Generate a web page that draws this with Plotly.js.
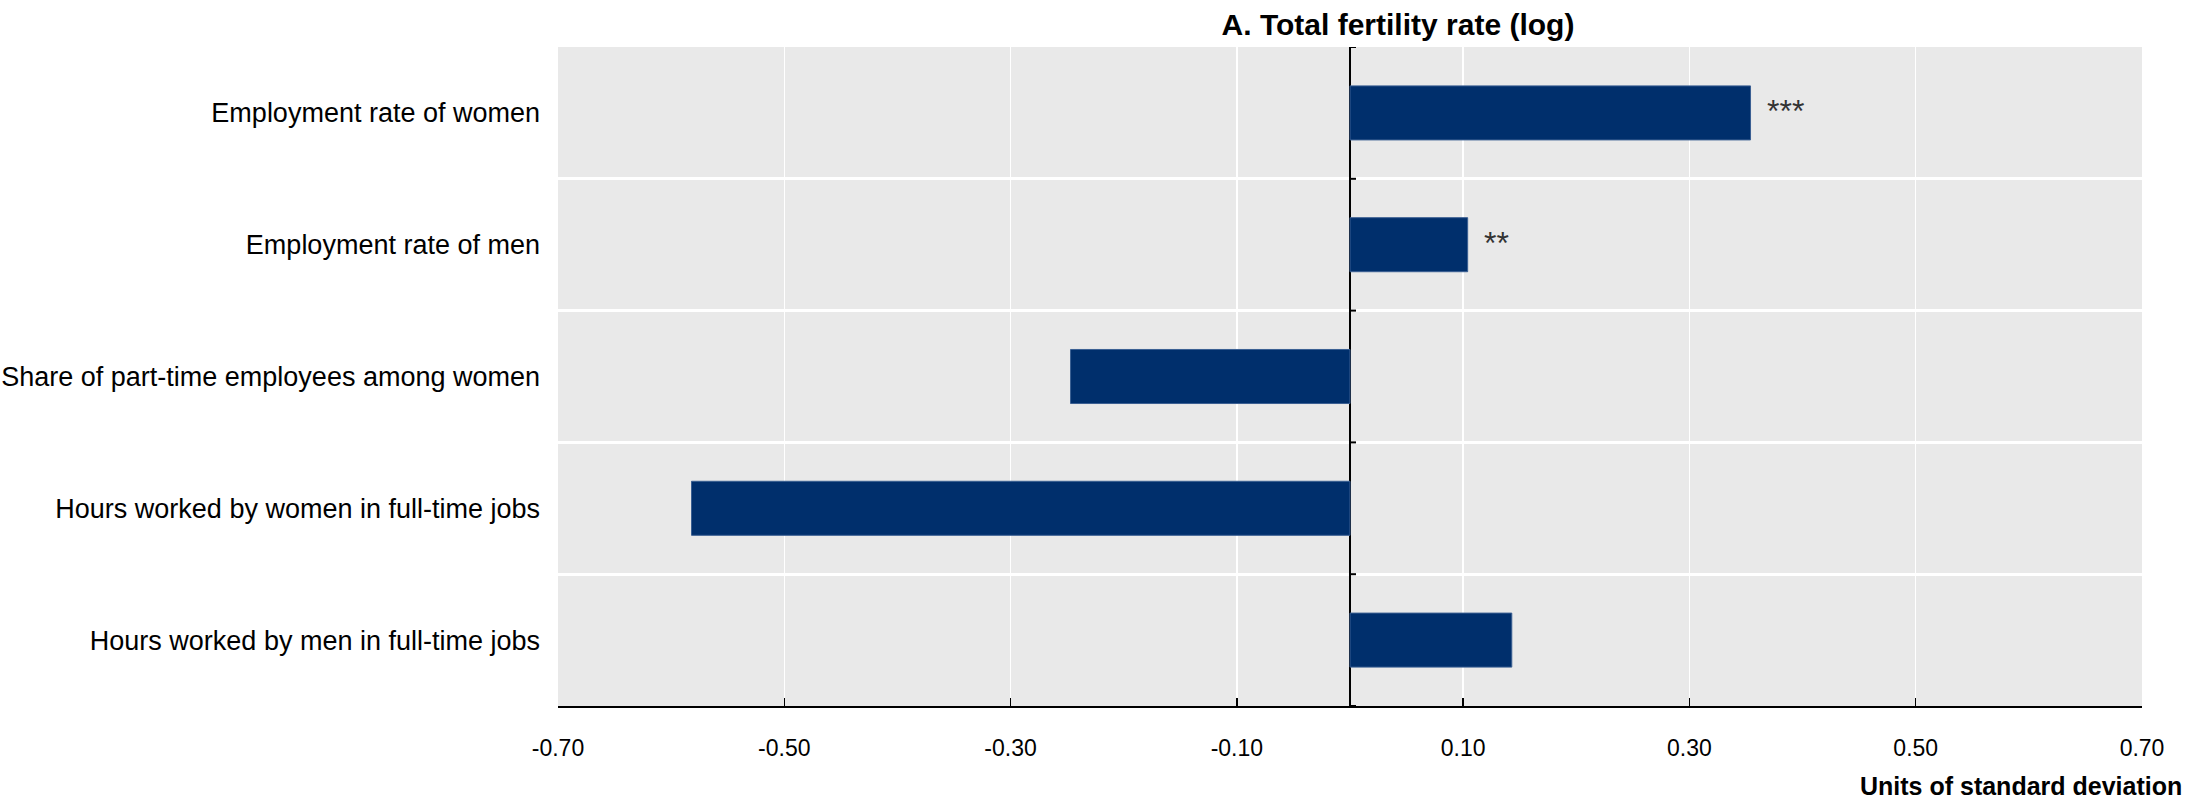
<!DOCTYPE html>
<html>
<head>
<meta charset="utf-8">
<script src="https://cdn.plot.ly/plotly-3.0.1.min.js"></script>
<style>html,body{margin:0;padding:0;background:#fff;}#chart{width:2194px;height:802px;}</style>
</head>
<body>
<div id="chart"></div>
<script>
// Data
var categories = [
  "Employment rate of women",
  "Employment rate of men",
  "Share of part-time employees among women",
  "Hours worked by women in full-time jobs",
  "Hours worked by men in full-time jobs"
];
var values = [0.354, 0.104, -0.247, -0.582, 0.143];
var significance = ["***", "**", "", "", ""];
var tickValues = [-0.70, -0.50, -0.30, -0.10, 0.10, 0.30, 0.50, 0.70];
var tickLabels = ["-0.70", "-0.50", "-0.30", "-0.10", "0.10", "0.30", "0.50", "0.70"];
var chartTitle = "A. Total fertility rate (log)";
var axisTitle = "Units of standard deviation";

var FONT = "'Liberation Sans', Arial, sans-serif";

var trace = {
  type: "bar",
  orientation: "h",
  y: categories,
  x: values,
  width: 0.41,
  marker: { color: "#002f6c", line: { color: "#3a5f92", width: 1 } },
  hoverinfo: "x+y"
};

var annotations = [];
categories.forEach(function (c, i) {
  if (significance[i]) {
    annotations.push({
      x: values[i], y: c, xref: "x", yref: "y",
      text: significance[i], showarrow: false,
      xanchor: "left", yanchor: "middle", xshift: 14, yshift: 2,
      font: { family: FONT, size: 32, color: "#333" }
    });
  }
});
annotations.push({
  xref: "paper", yref: "paper", x: 1, y: 0,
  xanchor: "right", yanchor: "middle", xshift: 42, yshift: -80,
  text: "<b>" + axisTitle + "</b>", showarrow: false,
  font: { family: FONT, size: 25, color: "#000" }
});

// small ticks on the zero line at category boundaries
var shapes = [];
for (var k = 0; k <= categories.length; k++) {
  shapes.push({
    type: "line", xref: "x", yref: "y",
    xsizemode: "pixel", xanchor: 0, x0: 0, x1: 6,
    y0: k - 0.5, y1: k - 0.5,
    line: { color: "#000", width: 2 }
  });
}

var layout = {
  width: 2194, height: 802,
  margin: { l: 558, r: 52, t: 47, b: 96, pad: 0 },
  paper_bgcolor: "#ffffff",
  plot_bgcolor: "#e9e9e9",
  showlegend: false,
  font: { family: FONT, color: "#000" },
  title: {
    text: "<b>" + chartTitle + "</b>",
    font: { family: FONT, size: 30, color: "#000" },
    xref: "container", x: 1398 / 2194, xanchor: "center",
    yref: "container", y: 1 - 24 / 802, yanchor: "middle"
  },
  xaxis: {
    range: [-0.70, 0.70],
    tickmode: "array", tickvals: tickValues, ticktext: tickLabels,
    showgrid: true, gridcolor: "#ffffff", gridwidth: 1.5,
    zeroline: true, zerolinecolor: "#000", zerolinewidth: 1.5,
    showline: true, linecolor: "#000", linewidth: 2,
    ticks: "inside", ticklen: 8, tickwidth: 1.5, tickcolor: "#000",
    ticklabelstandoff: 20,
    tickfont: { family: FONT, size: 23, color: "#000" },
    fixedrange: true
  },
  yaxis: {
    type: "category",
    categoryorder: "array", categoryarray: categories,
    range: [categories.length - 0.5, -0.5],
    tickson: "boundaries",
    showgrid: true, gridcolor: "#ffffff", gridwidth: 3,
    showline: false, zeroline: false, ticks: "",
    ticklabelstandoff: 17,
    tickfont: { family: FONT, size: 27, color: "#000" },
    fixedrange: true
  },
  annotations: annotations,
  shapes: shapes,
  bargap: 0.59
};

Plotly.newPlot("chart", [trace], layout, { displayModeBar: false, staticPlot: true });
</script>
</body>
</html>
